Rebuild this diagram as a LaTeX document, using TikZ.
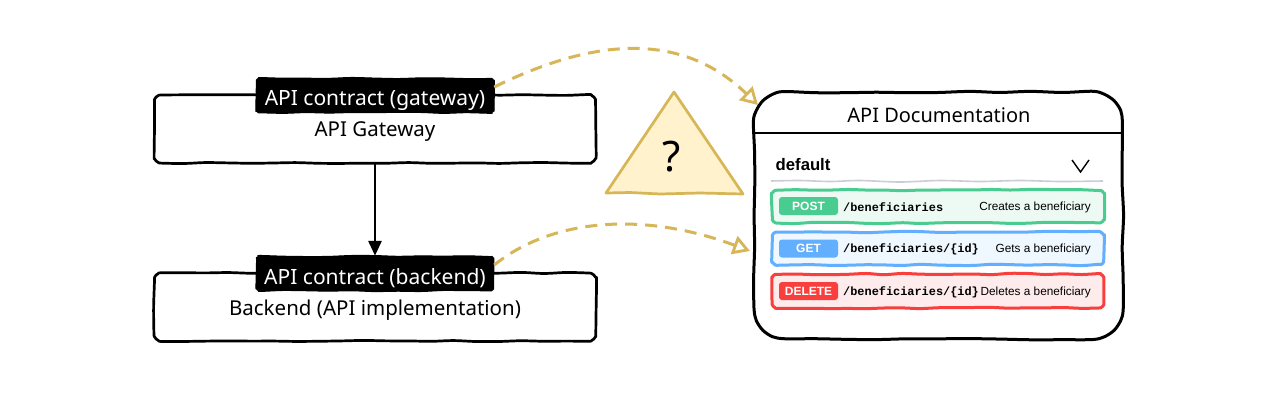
\documentclass[tikz,border=0pt]{standalone}
\usepackage{fontspec}
\setmainfont{Noto Sans}
\newfontfamily\uifont{Liberation Sans}
\newfontfamily\codefont{Liberation Mono}
\usetikzlibrary{arrows.meta}
\definecolor{gold}{HTML}{D6B656}
\definecolor{goldfill}{HTML}{FFF2CC}
\definecolor{postc}{HTML}{49CC90}
\definecolor{postf}{HTML}{EDFAF4}
\definecolor{getc}{HTML}{61AFFE}
\definecolor{getf}{HTML}{EFF7FF}
\definecolor{delc}{HTML}{F93E3E}
\definecolor{delf}{HTML}{FEEBEB}
\definecolor{rule}{HTML}{CCCCD6}
\tikzset{
  x=1pt,y=-1pt,
  boxline/.style={draw=black,line width=2.7pt,fill=white,line join=round},
  boxtext/.style={inner sep=0pt,minimum width=442pt,minimum height=62pt,font=\fontsize{20.5}{24}\selectfont},
  tagshape/.style={draw=black,fill=black,line width=1pt,line join=round},
  tagtext/.style={inner sep=0pt,minimum width=238pt,minimum height=44pt,text=white,font=\fontsize{21}{24}\selectfont},
  link/.style={draw=gold,line width=3pt,dash pattern=on 12pt off 8pt,
    -{Triangle[open,length=17pt,width=19pt,fill=white,line width=2.8pt]}},
  rowline/.style={line width=3pt,line join=round},
  badge/.style={rounded corners=3pt,inner sep=0pt,minimum width=59pt,minimum height=18pt,text=white,
    font=\uifont\bfseries\fontsize{12}{14}\selectfont},
  pathtxt/.style={anchor=west,inner sep=0pt,font=\codefont\bfseries\fontsize{11.9}{14}\selectfont},
  desc/.style={anchor=east,inner sep=0pt,font=\uifont\fontsize{11.8}{14}\selectfont},
}
% wobbly rounded box: {x1}{y1}{x2}{y2}{radius}{step}{amplitude}{style}
\newcommand\addpt[3]{%
  \pgfmathsetmacro\wpx{#1+#3*rand}%
  \pgfmathsetmacro\wpy{#2+#3*rand}%
  \xdef\ptlist{\ptlist (\wpx,\wpy)}}
\newcommand\addside[5]{% x1 y1 x2 y2 amp
  \pgfmathtruncatemacro\wn{max(1,round(veclen(#3-#1,#4-#2)/\wstep))}%
  \foreach \wi in {0,...,\wn}{%
    \pgfmathsetmacro\wxx{#1+(#3-#1)*\wi/\wn}%
    \pgfmathsetmacro\wyy{#2+(#4-#2)*\wi/\wn}%
    \addpt{\wxx}{\wyy}{#5}}}
\newcommand\addcorner[3]{% cx cy startangle  (clockwise on screen)
  \foreach \wa in {22.5,45,67.5}{%
    \pgfmathsetmacro\wxx{#1+\wr*cos(#3+\wa)}%
    \pgfmathsetmacro\wyy{#2+\wr*sin(#3+\wa)}%
    \xdef\ptlist{\ptlist (\wxx,\wyy)}}}
\newcommand\wobblybox[8]{%
  \gdef\ptlist{}\def\wr{#5}\def\wstep{#6}%
  \pgfmathsetmacro\xa{#1+#5}\pgfmathsetmacro\xb{#3-#5}%
  \pgfmathsetmacro\ya{#2+#5}\pgfmathsetmacro\yb{#4-#5}%
  \addside{\xa}{#2}{\xb}{#2}{#7}\addcorner{\xb}{\ya}{270}%
  \addside{#3}{\ya}{#3}{\yb}{#7}\addcorner{\xb}{\yb}{0}%
  \addside{\xb}{#4}{\xa}{#4}{#7}\addcorner{\xa}{\yb}{90}%
  \addside{#1}{\yb}{#1}{\ya}{#7}\addcorner{\xa}{\ya}{180}%
  \edef\wcmd{\noexpand\path[\unexpanded{#8}] plot[smooth cycle,tension=0.5] coordinates {\ptlist};}\wcmd}
\begin{document}
\begin{tikzpicture}
\pgfmathsetseed{11}
\useasboundingbox (0,0) rectangle (1280,400);
\fill[white] (0,0) rectangle (1280,400);
% left column
\wobblybox{154}{95}{596}{163}{7}{22}{0.6}{boxline}
\wobblybox{154}{273}{596}{341}{7}{22}{0.6}{boxline}
\node[boxtext] (gw) at (375,132) {API Gateway};
\node[boxtext] (be) at (375,310) {Backend (API implementation)};
\wobblybox{256}{78}{494}{113}{4}{22}{0.6}{tagshape}
\wobblybox{256}{256}{494}{291}{4}{22}{0.6}{tagshape}
\node[tagtext] (gwtag) at (375,100) {API contract (gateway)};
\node[tagtext] (betag) at (375,278) {API contract (backend)};
\draw[line width=2.8pt,-{Triangle[length=15pt,width=13pt]}] (gw.south) -- (betag.north);
% warning triangle
\draw[draw=gold,fill=goldfill,line width=2.7pt,line join=round]
  (674,92) -- (743,194) -- (700,193) -- (660,194) -- (630,192.5) -- (606,193) -- cycle;
\node[inner sep=0pt,font=\bfseries\fontsize{42}{44}\selectfont] (q) at (672,157) {?};
% document
\wobblybox{754}{92}{1123}{339}{30}{30}{0.9}{boxline,line width=3pt}
\node[inner sep=0pt,minimum width=369pt,minimum height=247pt] (doc) at (938.5,215.5) {};
\draw[line width=2.6pt] (doc.west |- 0,133) coordinate (hl) -- (doc.east |- 0,133) coordinate (hr);
\node[inner sep=0pt,font=\fontsize{20}{24}\selectfont] (title) at (939,115) {API Documentation};
\node[anchor=west,inner sep=0pt,font=\uifont\bfseries\fontsize{16.7}{18}\selectfont] (def) at (775.5,165) {default};
\coordinate (ca) at (1072,160); \coordinate (cb) at (1080.5,172); \coordinate (cc) at (1089,160);
\draw[line width=1.4pt] (ca) -- (cb) -- (cc);
\draw[draw=rule,line width=1.6pt] plot[smooth,tension=0.5] coordinates {(771,181) (800,180.5) (830,181.5) (860,180.5) (900,182) (940,180.5) (980,181.5) (1020,180.5) (1060,181.5) (1103,181)};
% rows
\wobblybox{772}{190}{1104}{223}{5}{18}{0.7}{rowline,draw=postc,fill=postf}
\wobblybox{772}{232}{1104}{265}{5}{18}{0.7}{rowline,draw=getc,fill=getf}
\wobblybox{772}{274}{1104}{308}{5}{18}{0.7}{rowline,draw=delc,fill=delf}
\node[badge,fill=postc] (b1) at (808.5,206) {POST};
\node[badge,fill=getc] (b2) at (808.5,248.5) {GET};
\node[badge,fill=delc] (b3) at (808.5,291) {DELETE};
\node[pathtxt] (p1) at (843,207) {/beneficiaries};
\node[pathtxt] (p2) at (843,249) {/beneficiaries/\{id\}};
\node[pathtxt] (p3) at (843,292) {/beneficiaries/\{id\}};
\node[desc] (d1) at (1091,207) {Creates a beneficiary};
\node[desc] (d2) at (1091,249) {Gets a beneficiary};
\node[desc] (d3) at (1091,292) {Deletes a beneficiary};
% dashed connectors
\coordinate (in1) at (758,105);
\coordinate (in2) at (750,251);
\draw[link] (gwtag.east) ++(0,-13) .. controls (570,50) and (670,20) .. (in1);
\draw[link] (betag.east) ++(0,-13) .. controls (550,220) and (640,210) .. (in2);
\end{tikzpicture}
\end{document}
